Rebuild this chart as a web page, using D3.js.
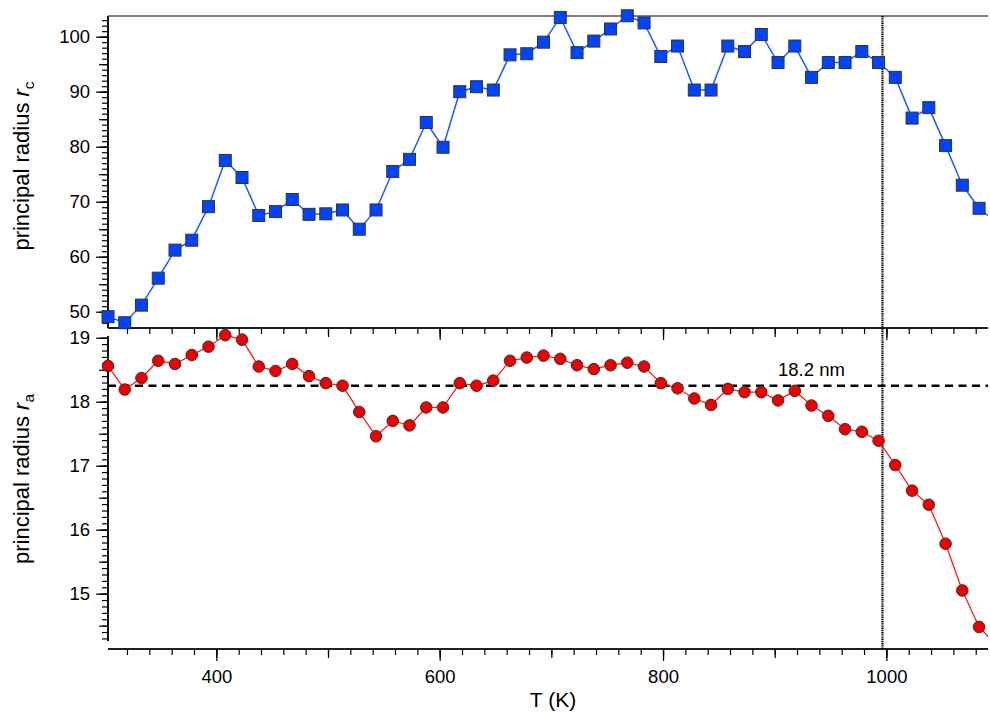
<!DOCTYPE html>
<html>
<head>
<meta charset="utf-8">
<script src="https://cdn.jsdelivr.net/npm/d3@7"></script>
<style>
  body { margin: 0; background: #fff; }
  svg { display: block; font-family: "Liberation Sans", Arial, Helvetica, sans-serif; }
  .axis path, .axis line { stroke: #000; stroke-width: 1.2; }
  .axis text { font-size: 18.5px; fill: #000; }
</style>
</head>
<body>
<svg id="chart" width="990" height="712"></svg>
<script>
// temperature of each measurement (K)
const temps = [303, 318, 333, 348, 363, 378, 393, 408, 423, 438, 453, 468, 483, 498,
  513, 528, 543, 558, 573, 588, 603, 618, 633, 648, 663, 678, 693, 708, 723, 738,
  753, 768, 783, 798, 813, 828, 843, 858, 873, 888, 903, 918, 933, 948, 963, 978,
  993, 1008, 1023, 1038, 1053, 1068, 1083, 1098];

// principal radius r_c (upper panel)
const rcValues = [49.1, 48.0, 51.2, 56.1, 61.2, 63.0, 69.1, 77.5, 74.4, 67.5, 68.2, 70.4, 67.7, 67.8,
  68.5, 65.0, 68.5, 75.5, 77.7, 84.4, 79.9, 90.0, 90.9, 90.3, 96.7, 96.9, 99.0, 103.5, 97.1, 99.2,
  101.4, 103.8, 102.5, 96.4, 98.3, 90.3, 90.3, 98.3, 97.3, 100.4, 95.3, 98.3, 92.6, 95.3, 95.3, 97.3,
  95.3, 92.6, 85.2, 87.1, 80.2, 73.0, 68.8, 66.3];

// principal radius r_a (lower panel)
const raValues = [18.56, 18.19, 18.37, 18.64, 18.59, 18.73, 18.86, 19.04, 18.97, 18.55, 18.48, 18.59, 18.40, 18.29,
  18.25, 17.84, 17.46, 17.70, 17.63, 17.91, 17.91, 18.29, 18.25, 18.33, 18.64, 18.69, 18.72, 18.67, 18.57, 18.51,
  18.57, 18.61, 18.55, 18.29, 18.21, 18.05, 17.95, 18.20, 18.15, 18.15, 18.02, 18.17, 17.94, 17.78, 17.57, 17.53,
  17.39, 17.01, 16.61, 16.39, 15.78, 15.05, 14.48, 14.2];

const xTicks = [400, 600, 800, 1000];
const rcTicks = [50, 60, 70, 80, 90, 100];
const raTicks = [15, 16, 17, 18, 19];

const refRadius = 18.25;      // dashed reference line
const refLabel = "18.2 nm";
const transitionT = 996.5;    // dotted vertical line

const svg = d3.select("#chart");
const left = 108, right = 988;

const x = d3.scaleLinear().domain([303, 1091]).range([left, right]);
const yTop = d3.scaleLinear().domain([47.04, 103.76]).range([328, 16]);
const yBot = d3.scaleLinear().domain([14.26, 19.027]).range([641, 336]);

svg.append("clipPath").attr("id", "clip")
  .append("rect").attr("x", 0).attr("y", 0).attr("width", right).attr("height", 712);

// ---- axes ----
function xAxis(yPos, labels) {
  const g = svg.append("g").attr("class", "axis").attr("transform", `translate(0,${yPos})`);
  g.append("g").call(d3.axisBottom(x).tickValues(d3.range(320, 1091, 20)).tickSize(6).tickFormat(""));
  g.append("g").call(d3.axisBottom(x).tickValues(d3.range(400, 1091, 100)).tickSize(9).tickFormat(""));
  g.append("g").call(d3.axisBottom(x).tickValues(xTicks).tickSize(12).tickPadding(9)
    .tickFormat(labels ? d3.format("d") : ""));
  g.selectAll("path.domain").attr("d", `M${left},0H${right}`);
}
xAxis(328, false);
xAxis(649, true);

function yAxis(scale, minor, mid, major) {
  const g = svg.append("g").attr("class", "axis").attr("transform", `translate(${left},0)`);
  g.append("g").call(d3.axisLeft(scale).tickValues(minor).tickSize(6).tickFormat(""));
  g.append("g").call(d3.axisLeft(scale).tickValues(mid).tickSize(9).tickFormat(""));
  g.append("g").call(d3.axisLeft(scale).tickValues(major).tickSize(12).tickPadding(6).tickFormat(d3.format("d")));
  const r = scale.range();
  g.selectAll("path.domain").attr("d", `M0,${r[0]}V${r[1]}`);
}
yAxis(yTop, d3.range(48, 104, 1), d3.range(50, 104, 5), rcTicks);
yAxis(yBot, d3.range(143, 191, 1).map(v => v / 10), d3.range(145, 191, 5).map(v => v / 10), raTicks);

// top frame line
svg.append("line").attr("x1", left).attr("x2", right).attr("y1", 16).attr("y2", 16)
  .attr("stroke", "#555").attr("stroke-width", 1.5);

// axis titles
function yTitle(cy, sub) {
  const t = svg.append("text")
    .attr("transform", `translate(29,${cy}) rotate(-90)`)
    .attr("text-anchor", "middle")
    .style("font-size", "22px");
  t.append("tspan").text("principal radius ");
  t.append("tspan").style("font-style", "italic").text("r");
  t.append("tspan").attr("dy", 5).style("font-size", "15.5px").text(sub);
}
yTitle(166, "c");
yTitle(479, "a");

svg.append("text").attr("x", 553).attr("y", 707).attr("text-anchor", "middle")
  .style("font-size", "21px").text("T (K)");

// reference lines
svg.append("line").attr("x1", left).attr("x2", right)
  .attr("y1", yBot(refRadius)).attr("y2", yBot(refRadius))
  .attr("stroke", "#000").attr("stroke-width", 2.5).attr("stroke-dasharray", "8,5.5");
svg.append("text").attr("x", 778).attr("y", 376).style("font-size", "18.5px").text(refLabel);

svg.append("line").attr("x1", x(transitionT)).attr("x2", x(transitionT)).attr("y1", 16).attr("y2", 649)
  .attr("stroke", "#000").attr("stroke-width", 2.2).attr("stroke-dasharray", "1.4,0.8");

// ---- series ----
const rcData = temps.map((t, i) => ({t: t, v: rcValues[i]}));
const raData = temps.map((t, i) => ({t: t, v: raValues[i]}));

const plot = svg.append("g").attr("clip-path", "url(#clip)");

plot.append("path").datum(rcData)
  .attr("fill", "none").attr("stroke", "#1a5cff").attr("stroke-width", 1.5)
  .attr("d", d3.line().x(d => x(d.t)).y(d => yTop(d.v)));
plot.selectAll("rect.rc").data(rcData).enter().append("rect")
  .attr("class", "rc")
  .attr("x", d => x(d.t) - 6).attr("y", d => yTop(d.v) - 6)
  .attr("width", 12).attr("height", 12)
  .attr("fill", "#0044ff").attr("stroke", "#333").attr("stroke-width", 1);

plot.append("path").datum(raData)
  .attr("fill", "none").attr("stroke", "#ff1a1a").attr("stroke-width", 1.3)
  .attr("d", d3.line().x(d => x(d.t)).y(d => yBot(d.v)));
plot.selectAll("circle.ra").data(raData).enter().append("circle")
  .attr("class", "ra")
  .attr("cx", d => x(d.t)).attr("cy", d => yBot(d.v)).attr("r", 5.8)
  .attr("fill", "#ee0000").attr("stroke", "#333").attr("stroke-width", 1);
</script>
</body>
</html>
